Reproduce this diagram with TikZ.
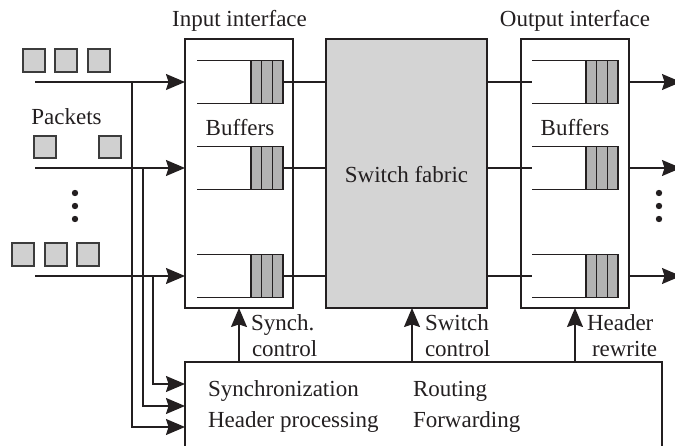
\documentclass[tikz,border=0pt]{standalone}
\usepackage{fontspec}
\setmainfont{Liberation Serif}
\usetikzlibrary{arrows.meta}
\definecolor{ink}{HTML}{231F20}
\definecolor{fabricgray}{HTML}{D4D4D4}
\definecolor{cellgray}{HTML}{B2B2B2}
\definecolor{pktgray}{HTML}{D0D0D0}
\definecolor{pktedge}{HTML}{3C3C3C}
\tikzset{
  queue/.pic={
    \fill[cellgray] (54,-21.5) rectangle (86,21.5);
    \draw[line width=1.2pt] (0,-21.5) -- (86,-21.5) -- (86,21.5) -- (0,21.5);
    \draw[line width=1.2pt] (54,-21.5) -- (54,21.5)
                            (64.7,-21.5) -- (64.7,21.5)
                            (75.3,-21.5) -- (75.3,21.5);
    \coordinate (-in) at (0,0);
    \coordinate (-out) at (86,0);
  }
}
\begin{document}
\begin{tikzpicture}[x=1pt,y=-1pt,line width=1.3pt,draw=ink,
  every node/.style={font=\fontsize{23}{27}\selectfont,inner sep=0pt,outer sep=0pt,text=ink},
  box/.style={draw=ink,rectangle,anchor=north west,line width=1.3pt},
  arr/.style={draw=ink,-{Stealth[length=19pt,width=16pt,inset=2.5pt]}},
  pkt/.style={fill=pktgray,draw=pktedge,line width=1.1pt},
  lbl/.style={anchor=base west},
  ttl/.style={anchor=base}]
\useasboundingbox (0,0) rectangle (675,446);
\clip (0,0) rectangle (675,446);

% interfaces, fabric and control unit
\node[box,minimum width=108pt,minimum height=269pt] (inif) at (185,39) {};
\node[box,fill=fabricgray,minimum width=161pt,minimum height=269pt] (fabric) at (326,39) {};
\node[box,minimum width=108pt,minimum height=269pt] (outif) at (521,39) {};
\node[box,minimum width=477pt,minimum height=130pt] (ctrl) at (185,362) {};

% titles
\node[ttl] (tin) at (239.5,27) {Input interface};
\node[ttl] (tout) at (575,27) {Output interface};
\node[ttl] (bin) at (240,136) {Buffers};
\node[ttl] (bout) at (575,136) {Buffers};
\node[ttl] (tfab) at (406.5,183) {Switch fabric};
\node[ttl] (tpkt) at (66.5,125) {Packets};

% ports with their buffers
\foreach \i/\y in {1/82,2/168,3/276} {
  \coordinate (src\i) at (35,\y);
  \coordinate (dst\i) at (681,\y);
  \pic (iq\i) at (197,\y) {queue};
  \pic (oq\i) at (532,\y) {queue};
  \draw[arr] (src\i) -- (src\i -| inif.west);
  \draw (iq\i-out) -- (iq\i-out -| fabric.west);
  \draw (oq\i-in -| fabric.east) -- (oq\i-in);
  \draw[arr] (oq\i-in -| outif.east) -- (dst\i);
}

% taps towards the control unit
\coordinate (t1) at (132,82);
\coordinate (t2) at (143,168);
\coordinate (t3) at (153,276);
\draw[arr] (t1) |- (ctrl.west |- 0,427);
\draw[arr] (t2) |- (ctrl.west |- 0,406);
\draw[arr] (t3) |- (ctrl.west |- 0,384);

% control signals
\draw[arr] (ctrl.north -| inif.south) -- (inif.south);
\draw[arr] (ctrl.north -| 412,0) -- (fabric.south -| 412,0);
\draw[arr] (ctrl.north -| outif.south) -- (outif.south);

\node[lbl] (s1) at (251,331) {Synch.};
\node[lbl] (s2) at (252,357) {control};
\node[lbl] (w1) at (425,331) {Switch};
\node[lbl] (w2) at (425,357) {control};
\node[lbl] (h1) at (587,331) {Header};
\node[lbl] (h2) at (592,357) {rewrite};

\node[lbl] (f1) at (208,396) {Synchronization};
\node[lbl] (f2) at (208,427) {Header processing};
\node[lbl] (f3) at (413,396) {Routing};
\node[lbl] (f4) at (413,427) {Forwarding};

% packets
\foreach \x in {23,55,88} \draw[pkt] (\x,49) rectangle ++(22,23);
\foreach \x in {34,99} \draw[pkt] (\x,136) rectangle ++(22,22);
\foreach \x in {12,45,77} \draw[pkt] (\x,243) rectangle ++(22,23);

% ellipsis dots
\foreach \y in {193,206,219} {
  \fill[ink] (75,\y) circle (3.2);
  \fill[ink] (659,\y) circle (3.2);
}
\end{tikzpicture}
\end{document}
